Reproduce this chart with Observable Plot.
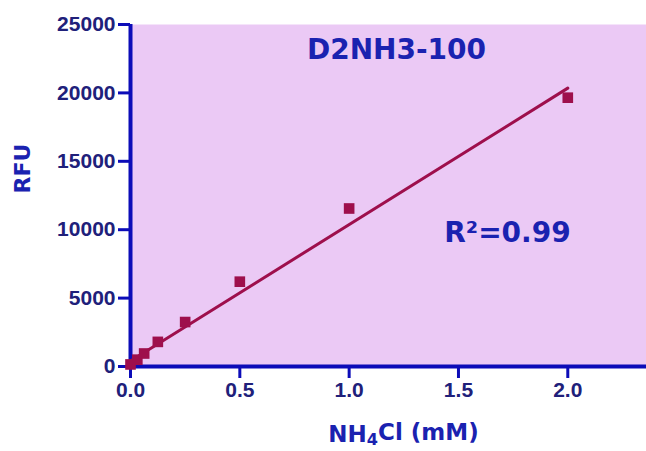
<!DOCTYPE html>
<html>
<head>
<meta charset="utf-8">
<script src="https://cdn.jsdelivr.net/npm/d3@7"></script>
<script src="https://cdn.jsdelivr.net/npm/@observablehq/plot@0.6"></script>
<style>
  html, body { margin: 0; padding: 0; background: #ffffff; }
  #chart svg { display: block; }
</style>
</head>
<body>
<div id="chart"></div>
<script>
// NH4Cl concentration (mM) and measured fluorescence (RFU)
const concentration = [0, 0.03125, 0.0625, 0.125, 0.25, 0.5, 1.0, 2.0];
const rfu = [150, 500, 950, 1800, 3250, 6200, 11550, 19650];
// Linear fit endpoints
const fitX = [0, 2.0];
const fitY = [400, 20350];
const xTicks = [0, 0.5, 1.0, 1.5, 2.0];
const yTicks = [0, 5000, 10000, 15000, 20000, 25000];
const title = "D2NH3-100";
const r2Label = "R²=0.99";
const xLabel = "NH4Cl (mM)";
const yLabel = "RFU";

const points = concentration.map((c, i) => ({x: c, y: rfu[i]}));
const fit = fitX.map((c, i) => ({x: c, y: fitY[i]}));

const pink = "#ebc9f5";
const axisBlue = "#0c0cb8";
const tickText = "#20207a";
const labelBlue = "#1a22b0";
const dataColor = "#9e0f4c";
const tickFont = "'Liberation Sans', Arial, sans-serif";
const labelFont = "'DejaVu Sans', sans-serif";

const chart = Plot.plot({
  width: 646,
  height: 451,
  marginLeft: 130,
  marginRight: 0,
  marginTop: 24,
  marginBottom: 85,
  style: {background: "#ffffff", overflow: "visible", fontFamily: tickFont},
  x: {domain: [0, 2.36]},
  y: {domain: [0, 25000]},
  marks: [
    Plot.frame({fill: pink, stroke: null}),
    Plot.axisY({
      ticks: yTicks, tickSize: 12, tickPadding: 3, label: null, tickFormat: "d",
      stroke: axisBlue, strokeWidth: 3, fill: tickText,
      fontSize: 21, fontWeight: "bold", fontFamily: tickFont
    }),
    Plot.axisX({
      ticks: xTicks, tickSize: 12, tickPadding: 4, label: null, tickFormat: ".1f",
      stroke: axisBlue, strokeWidth: 3, fill: tickText,
      fontSize: 21, fontWeight: "bold", fontFamily: tickFont
    }),
    Plot.ruleX([0], {stroke: axisBlue, strokeWidth: 4}),
    Plot.ruleY([0], {stroke: axisBlue, strokeWidth: 4}),
    Plot.line(fit, {x: "x", y: "y", stroke: dataColor, strokeWidth: 3}),
    Plot.dot(points, {x: "x", y: "y", symbol: "square", r: 6, fill: dataColor, stroke: null}),
    Plot.text([title], {
      text: d => d, frameAnchor: "top", dx: 8, dy: 26, lineAnchor: "middle",
      fill: labelBlue, fontSize: 28, fontWeight: "bold", fontFamily: labelFont
    }),
    Plot.text([r2Label], {
      text: d => d, frameAnchor: "middle", dx: 119, dy: 38, lineAnchor: "middle",
      fill: labelBlue, fontSize: 28, fontWeight: "bold", fontFamily: labelFont
    }),
    Plot.text([xLabel], {
      text: d => d, frameAnchor: "bottom", dx: 15, dy: 68, lineAnchor: "middle",
      fill: labelBlue, fontSize: 23, fontWeight: "bold", fontFamily: labelFont
    }),
    Plot.text([yLabel], {
      text: d => d, frameAnchor: "left", dx: -108, dy: -2, rotate: -90, lineAnchor: "middle",
      fill: labelBlue, fontSize: 22, fontWeight: "bold", fontFamily: labelFont
    })
  ]
});

// Render subscript 4 in the x label
d3.select(chart).selectAll("text").each(function() {
  if (this.textContent === xLabel) {
    const t = d3.select(this);
    t.text(null);
    t.append("tspan").text("NH");
    t.append("tspan").attr("dy", "0.22em").attr("font-size", "0.7em").text("4");
    t.append("tspan").attr("dy", "-0.22em").text("Cl (mM)");
  }
});

document.getElementById("chart").appendChild(chart);
</script>
</body>
</html>
